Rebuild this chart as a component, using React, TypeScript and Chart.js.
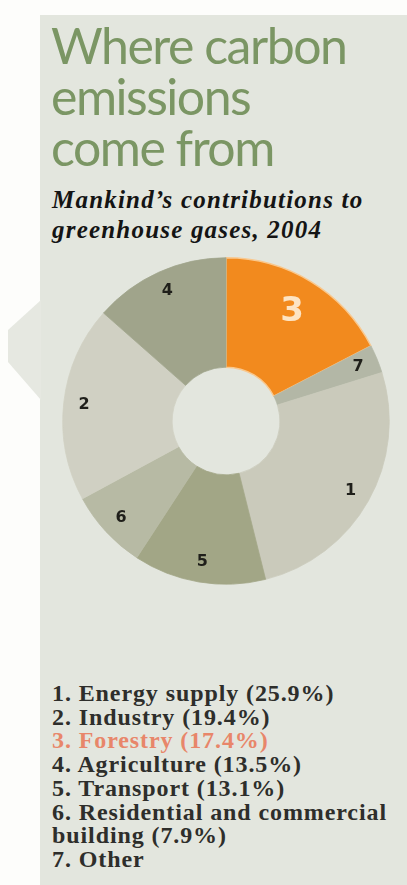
import React, { useEffect, useRef } from "react";
import { Chart, registerables } from "chart.js";

Chart.register(...registerables);

// Drawing order, clockwise from 12 o'clock
const sliceLabels = ["3", "7", "1", "5", "6", "2", "4"];
const sliceValues = [17.4, 2.8, 25.9, 13.1, 7.9, 19.4, 13.5];
const sliceColors = ["#f28a1e", "#b3b7a6", "#cacabb", "#a2a686", "#b7baa4", "#d0d0c3", "#a0a48b"];

const titleLines = ["Where carbon", "emissions", "come from"];
const subtitleLines = ["Mankind\u2019s contributions to", "greenhouse gases, 2004"];
const legendLines = [
  "1. Energy supply (25.9%)",
  "2. Industry (19.4%)",
  "3. Forestry (17.4%)",
  "4. Agriculture (13.5%)",
  "5. Transport (13.1%)",
  "6. Residential and commercial",
  "building (7.9%)",
  "7. Other",
];
const highlightLegendIndex = 2;
const highlightSlice = "3";

const SERIF = '"Liberation Serif", "Times New Roman", Times, serif';

const sliceLabelPlugin = {
  id: "sliceLabels",
  afterDatasetsDraw(chart: any) {
    const ctx = chart.ctx;
    const meta = chart.getDatasetMeta(0);
    meta.data.forEach((arc: any, i: number) => {
      const p = arc.getProps(["startAngle", "endAngle", "outerRadius", "x", "y"], true);
      const mid = (p.startAngle + p.endAngle) / 2;
      const lbl = chart.data.labels[i];
      const big = lbl === highlightSlice;
      const r = p.outerRadius * (big ? 0.78 : 0.875);
      const x = p.x + Math.cos(mid) * r;
      const y = p.y + Math.sin(mid) * r;
      ctx.save();
      ctx.textAlign = "center";
      ctx.textBaseline = "middle";
      ctx.font = big ? "bold 34px 'DejaVu Sans'" : "bold 16px 'DejaVu Sans'";
      ctx.fillStyle = big ? "#fde4c4" : "#1f1f1a";
      ctx.fillText(lbl, x, y);
      ctx.restore();
    });
  },
};

function Donut() {
  const ref = useRef<HTMLCanvasElement | null>(null);
  useEffect(() => {
    if (!ref.current) return;
    const chart = new Chart(ref.current, {
      type: "doughnut",
      data: {
        labels: sliceLabels,
        datasets: [
          {
            data: sliceValues,
            backgroundColor: sliceColors,
            borderColor: sliceLabels.map((l, i) => (l === highlightSlice ? "#f9c88e" : sliceColors[i])),
            borderWidth: sliceLabels.map((l) => (l === highlightSlice ? 1.5 : 0.8)),
          },
        ],
      },
      options: {
        responsive: false,
        animation: false,
        cutout: "33%",
        rotation: 0,
        layout: { padding: 0 },
        plugins: { legend: { display: false }, tooltip: { enabled: false } },
      },
      plugins: [sliceLabelPlugin],
    });
    return () => chart.destroy();
  }, []);
  return (
    <canvas
      ref={ref}
      width={328}
      height={328}
      style={{ position: "absolute", left: 62, top: 257, width: 328, height: 328 }}
    />
  );
}

export default function App() {
  return (
    <div style={{ position: "absolute", left: 0, top: 0, width: 407, height: 885, overflow: "hidden", background: "#fdfdfb" }}>
      <div style={{ position: "absolute", left: 40, top: 15, width: 367, height: 870, background: "#e3e6de" }} />
      <div
        style={{
          position: "absolute",
          left: 8,
          top: 300,
          width: 33,
          height: 100,
          background: "#e6e8e1",
          clipPath: "polygon(100% 0%, 0% 30%, 0% 62%, 100% 100%)",
        }}
      />
      <div
        style={{
          position: "absolute",
          left: 51,
          top: 20,
          fontFamily: "Lato, sans-serif",
          fontSize: 50,
          lineHeight: "51px",
          color: "#7b9664",
          letterSpacing: -1.5,
          whiteSpace: "nowrap",
        }}
      >
        {titleLines.map((t) => (
          <div key={t}>{t}</div>
        ))}
      </div>
      <div
        style={{
          position: "absolute",
          left: 52,
          top: 185,
          fontFamily: SERIF,
          fontStyle: "italic",
          fontWeight: "bold",
          fontSize: 25,
          lineHeight: "30px",
          letterSpacing: 1.2,
          color: "#141414",
          whiteSpace: "nowrap",
        }}
      >
        {subtitleLines.map((t) => (
          <div key={t}>{t}</div>
        ))}
      </div>
      <Donut />
      <div
        style={{
          position: "absolute",
          left: 52,
          top: 682,
          fontFamily: SERIF,
          fontWeight: "bold",
          fontSize: 24,
          lineHeight: "23.7px",
          letterSpacing: 0.9,
          color: "#2e2e2b",
          whiteSpace: "nowrap",
        }}
      >
        {legendLines.map((t, i) => (
          <div key={t} style={{ color: i === highlightLegendIndex ? "#e8866a" : undefined }}>
            {t}
          </div>
        ))}
      </div>
    </div>
  );
}
